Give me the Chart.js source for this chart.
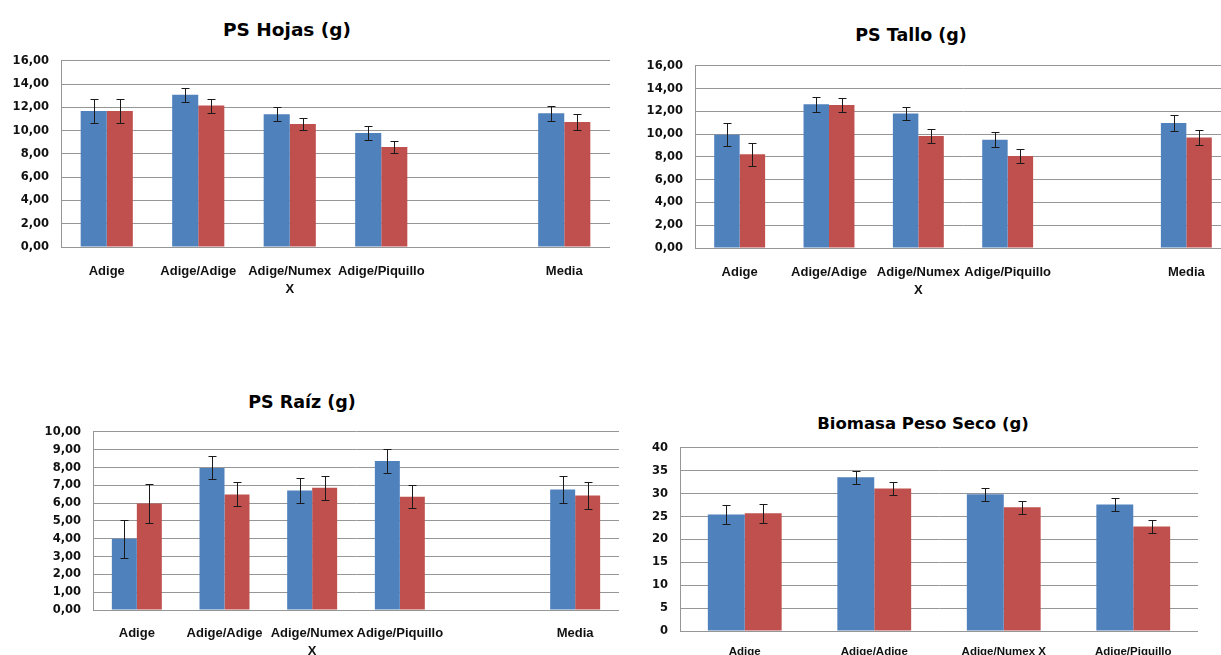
<!DOCTYPE html>
<html>
<head>
<meta charset="utf-8">
<script src="https://cdn.jsdelivr.net/npm/chart.js@4"></script>
<style>
  html, body { margin: 0; padding: 0; background: #fff; overflow: hidden; width: 1221px; height: 655px; }
  .caja { position: absolute; }
  .titulo { position: absolute; font-family: 'DejaVu Sans', sans-serif; font-weight: bold; color: #000;
            line-height: 24px; white-space: nowrap; transform: translateX(-50%); }
</style>
</head>
<body>

<div class="titulo" style="left:287px; top:18px; font-size:18.5px;">PS Hojas (g)</div>
<div class="titulo" style="left:911px; top:23px; font-size:17.5px;">PS Tallo (g)</div>
<div class="titulo" style="left:302px; top:390px; font-size:17.5px;">PS Raíz (g)</div>
<div class="titulo" style="left:923px; top:412px; font-size:16.5px;">Biomasa Peso Seco (g)</div>

<div class="caja" style="left:0px; top:42px;"><canvas id="chartHojas" width="610" height="255"></canvas></div>
<div class="caja" style="left:635px; top:47px;"><canvas id="chartTallo" width="596" height="251"></canvas></div>
<div class="caja" style="left:33px; top:413px;"><canvas id="chartRaiz" width="586" height="247"></canvas></div>
<div class="caja" style="left:630px; top:429px;"><canvas id="chartBiomasa" width="568" height="242"></canvas></div>

<script>
// ---------------- Datos ----------------
const categorias = ['Adige', 'Adige/Adige', ['Adige/Numex', 'X'], 'Adige/Piquillo', '', 'Media'];
const categoriasBiomasa = ['Adige', 'Adige/Adige', 'Adige/Numex X', 'Adige/Piquillo'];

// PS Hojas (g)
const hojasAzul    = [11.70, 13.08, 11.41, 9.81, null, 11.50];
const hojasAzulErr = [1.00, 0.60, 0.60, 0.60, null, 0.65];
const hojasRojo    = [11.70, 12.16, 10.58, 8.60, null, 10.75];
const hojasRojoErr = [1.00, 0.60, 0.55, 0.55, null, 0.70];

// PS Tallo (g)
const talloAzul    = [9.96, 12.63, 11.81, 9.52, null, 10.99];
const talloAzulErr = [1.00, 0.65, 0.60, 0.65, null, 0.70];
const talloRojo    = [8.24, 12.57, 9.85, 8.09, null, 9.70];
const talloRojoErr = [1.00, 0.60, 0.60, 0.60, null, 0.68];

// PS Raíz (g)
const raizAzul    = [4.00, 7.98, 6.71, 8.36, null, 6.77];
const raizAzulErr = [1.07, 0.65, 0.68, 0.68, null, 0.76];
const raizRojo    = [5.98, 6.49, 6.86, 6.36, null, 6.43];
const raizRojoErr = [1.07, 0.67, 0.67, 0.65, null, 0.78];

// Biomasa Peso Seco (g)
const biomasaAzul    = [25.46, 33.60, 29.89, 27.64];
const biomasaAzulErr = [2.10, 1.40, 1.40, 1.40];
const biomasaRojo    = [25.75, 31.13, 27.06, 22.84];
const biomasaRojoErr = [2.10, 1.40, 1.40, 1.40];

const AZUL = '#4F81BD';
const ROJO = '#C0504D';
const GRIS = '#969696';
const FUENTE = "'DejaVu Sans', sans-serif";
const FUENTE_X = "'Liberation Sans', Arial, sans-serif";

// Barras de error dibujadas sobre cada barra
const barrasError = {
    id: 'barrasError',
    afterDatasetsDraw(chart) {
        const ctx = chart.ctx;
        const escalaY = chart.scales.y;
        ctx.save();
        ctx.strokeStyle = '#1a1a1a';
        ctx.lineWidth = 1;
        chart.data.datasets.forEach((ds, i) => {
            const meta = chart.getDatasetMeta(i);
            meta.data.forEach((barra, j) => {
                const v = ds.data[j];
                const e = ds.errores[j];
                if (v === null || e === null || e === undefined) return;
                const x = Math.round(barra.x) + 0.5;
                const yArriba = Math.round(escalaY.getPixelForValue(v + e)) + 0.5;
                const yAbajo = Math.round(escalaY.getPixelForValue(v - e)) + 0.5;
                ctx.beginPath();
                ctx.moveTo(x, yArriba); ctx.lineTo(x, yAbajo);
                ctx.moveTo(x - 4, yArriba); ctx.lineTo(x + 4, yArriba);
                ctx.moveTo(x - 4, yAbajo); ctx.lineTo(x + 4, yAbajo);
                ctx.stroke();
            });
        });
        ctx.restore();
    }
};

function crearGrafico(id, etiquetas, azul, azulErr, rojo, rojoErr, cfg) {
    return new Chart(document.getElementById(id), {
        type: 'bar',
        data: {
            labels: etiquetas,
            datasets: [
                { data: azul, errores: azulErr, backgroundColor: AZUL, borderWidth: 0,
                  categoryPercentage: 0.57, barPercentage: 1.0 },
                { data: rojo, errores: rojoErr, backgroundColor: ROJO, borderWidth: 0,
                  categoryPercentage: 0.57, barPercentage: 1.0 }
            ]
        },
        options: {
            responsive: false,
            animation: false,
            devicePixelRatio: 1,
            layout: { padding: { top: 10, left: 0, right: 0, bottom: 0 } },
            plugins: { legend: { display: false }, tooltip: { enabled: false }, title: { display: false } },
            scales: {
                x: {
                    grid: { display: false, drawTicks: false },
                    border: { display: true, color: GRIS, width: 1 },
                    ticks: { color: '#111', padding: cfg.padX, maxRotation: 0, autoSkip: false,
                             font: { family: FUENTE_X, size: cfg.fuenteX, weight: 'bold', lineHeight: 1.4 } },
                    afterFit: (s) => { s.height = cfg.altoX; }
                },
                y: {
                    min: 0, max: cfg.max,
                    grid: { color: GRIS, lineWidth: 1, drawTicks: false },
                    border: { display: true, color: GRIS, width: 1 },
                    ticks: { stepSize: cfg.paso, color: '#111', padding: 12, autoSkip: false,
                             font: { family: FUENTE, size: 11.5, weight: 'bold' },
                             callback: cfg.formato },
                    afterFit: (s) => { s.width = cfg.anchoY; }
                }
            }
        },
        plugins: [barrasError]
    });
}

const conComa = (v) => v.toFixed(2).replace('.', ',');

crearGrafico('chartHojas', categorias, hojasAzul, hojasAzulErr, hojasRojo, hojasRojoErr,
    { max: 16, paso: 2, formato: conComa, anchoY: 61, altoX: 50, padX: 15, fuenteX: 13 });
crearGrafico('chartTallo', categorias, talloAzul, talloAzulErr, talloRojo, talloRojoErr,
    { max: 16, paso: 2, formato: conComa, anchoY: 60, altoX: 50, padX: 15, fuenteX: 13 });
crearGrafico('chartRaiz', categorias, raizAzul, raizAzulErr, raizRojo, raizRojoErr,
    { max: 10, paso: 1, formato: conComa, anchoY: 60, altoX: 50, padX: 14, fuenteX: 13 });
crearGrafico('chartBiomasa', categoriasBiomasa, biomasaAzul, biomasaAzulErr, biomasaRojo, biomasaRojoErr,
    { max: 40, paso: 5, formato: (v) => String(v), anchoY: 50, altoX: 40, padX: 13, fuenteX: 11.5 });
</script>
</body>
</html>
